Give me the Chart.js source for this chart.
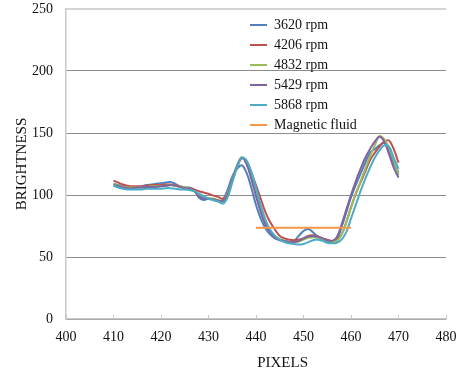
<!DOCTYPE html>
<html>
<head>
<meta charset="utf-8">
<script src="https://cdn.jsdelivr.net/npm/chart.js"></script>
<style>
  html, body { margin: 0; padding: 0; background: #fff; }
  #wrap { width: 461px; height: 375px; }
</style>
</head>
<body>
<div id="wrap"><canvas id="chart"></canvas></div>
<script>
// pixel positions along the profile
const pixels = [
  410, 411, 412, 413, 414, 415, 416, 417, 418, 419,
  420, 421, 422, 423, 424, 425, 426, 427, 428, 429,
  430, 431, 432, 433, 434, 435, 436, 437, 438, 439,
  440, 441, 442, 443, 444, 445, 446, 447, 448, 449,
  450, 451, 452, 453, 454, 455, 456, 457, 458, 459,
  460, 461, 462, 463, 464, 465, 466, 467, 468, 469, 470
];

const rpm3620 = [
  109, 108, 107, 106, 106, 106, 107, 108, 108.5, 109,
  109.5, 110, 110.5, 109, 107, 106, 106, 104, 98, 96,
  97, 96, 95, 96, 104, 115, 121, 124, 118, 106,
  92, 81, 73, 68, 65, 63.5, 63, 62.5, 63, 67,
  71, 72.5, 70, 66.5, 64, 63, 62.5, 64, 74, 86,
  98, 108, 117, 126, 134, 137, 140, 142, 136, 126, 118
];

const rpm4206 = [
  111.5, 110, 108.5, 107.5, 107, 107, 107, 107.5, 108, 108,
  108, 108.5, 108.5, 108, 107, 106, 105.5, 104.5, 103, 102,
  101, 99.5, 98.5, 97, 101, 112, 122, 129.5, 127, 118,
  108, 97, 86, 78, 72, 67, 65, 64, 63.5, 64,
  65, 67, 67.5, 66.5, 65, 64, 63, 64, 68, 78,
  90, 101, 110, 119, 128, 134, 139, 143, 144, 137, 126
];

const rpm4832 = [
  109, 107.5, 106.5, 106, 106, 106, 106, 106.5, 107, 107,
  107, 107.5, 108, 107.5, 107, 106, 105, 103, 100, 98,
  97.5, 97, 96, 95, 101, 113, 124, 130.5, 126, 115,
  101, 88, 78, 71, 67, 64.5, 63, 62, 62, 62.5,
  64, 65.5, 66, 65.5, 64, 63, 62, 63, 68, 78,
  90, 101, 111, 121, 131, 140, 147.5, 145, 138, 128, 116
];

const rpm5429 = [
  108, 107, 106, 105.5, 105.5, 106, 106, 106.5, 106.5, 106.5,
  107, 107.5, 108, 107.5, 106.5, 105.5, 105, 103, 99, 97,
  97, 96.5, 95.5, 95, 100, 112, 123, 130, 125, 113,
  99, 86, 76, 70, 66, 64, 63, 62, 62, 63,
  65, 66.5, 67, 66.5, 65, 63.5, 63, 66, 76, 88,
  100, 111, 121, 130, 137, 143, 147, 143, 133, 122, 114
];

const rpm5868 = [
  107.5, 106, 105, 104.5, 104.5, 104.5, 104.5, 105, 105, 105,
  105, 105.5, 105.5, 105, 104.5, 104.5, 104, 103, 101, 99,
  97, 96, 95, 93, 98, 110, 122, 130, 128, 119,
  106, 92, 80, 72, 67, 64, 62, 61, 60.5, 60,
  60.5, 62, 63.5, 64, 63, 61.5, 61, 61.5, 64, 70,
  81, 92, 103, 113, 122, 130, 136, 140, 139, 130, 121
];

// magnetic fluid level
const fluidX = [440, 460];
const fluidY = [73.5, 73.5];

const xTicks = [400, 410, 420, 430, 440, 450, 460, 470, 480];
const yTicks = [0, 50, 100, 150, 200, 250];

const serif = "'Liberation Serif', 'Times New Roman', serif";

function pts(xs, ys) {
  return xs.map((x, i) => ({ x: x, y: ys[i] }));
}

function series(label, ys, color, order) {
  return {
    label: label,
    data: pts(pixels, ys),
    borderColor: color,
    backgroundColor: color,
    borderWidth: 2,
    pointRadius: 0,
    pointStyle: 'line',
    tension: 0.4,
    order: order
  };
}

// axis titles placed like the original
const axisTitles = {
  id: 'axisTitles',
  afterDraw(chart) {
    const ctx = chart.ctx;
    const area = chart.chartArea;
    ctx.save();
    ctx.fillStyle = '#111';
    ctx.font = '15px ' + serif;
    ctx.textAlign = 'center';
    ctx.textBaseline = 'middle';
    ctx.fillText('PIXELS', area.left + (area.right - area.left) * 0.57, 363);
    ctx.translate(22, (area.top + area.bottom) / 2);
    ctx.rotate(-Math.PI / 2);
    ctx.fillText('BRIGHTNESS', 0, 0);
    ctx.restore();
  }
};

// move the legend inside the plot, right of centre
const legendSpot = {
  id: 'legendSpot',
  afterLayout(chart) {
    const lg = chart.legend;
    const w = lg.width, h = lg.height;
    lg.left = 244;
    lg.top = 12;
    lg.right = lg.left + w;
    lg.bottom = lg.top + h;
  }
};

function noOverhang(s) {
  s.paddingTop = 0;
  s.paddingBottom = 0;
  s.paddingLeft = 0;
  s.paddingRight = 0;
}

new Chart(document.getElementById('chart'), {
  type: 'line',
  data: {
    datasets: [
      series('3620 rpm', rpm3620, '#4F81BD', 6),
      series('4206 rpm', rpm4206, '#C0504D', 5),
      series('4832 rpm', rpm4832, '#9BBB59', 4),
      series('5429 rpm', rpm5429, '#8064A2', 3),
      series('5868 rpm', rpm5868, '#4BACC6', 2),
      {
        label: 'Magnetic fluid',
        data: pts(fluidX, fluidY),
        borderColor: '#F79646',
        backgroundColor: '#F79646',
        borderWidth: 2,
        pointRadius: 0,
        pointStyle: 'line',
        order: 1
      }
    ]
  },
  options: {
    responsive: true,
    maintainAspectRatio: false,
    animation: false,
    layout: { padding: { top: 9, right: 15, bottom: 0, left: 0 } },
    plugins: {
      tooltip: { enabled: false },
      legend: {
        position: 'chartArea',
        align: 'start',
        labels: {
          usePointStyle: true,
          pointStyleWidth: 17,
          boxWidth: 17,
          boxHeight: 14,
          padding: 6,
          color: '#111',
          font: { family: serif, size: 14 },
          sort: (a, b) => a.datasetIndex - b.datasetIndex
        }
      }
    },
    scales: {
      x: {
        type: 'linear',
        min: 400,
        max: 480,
        afterBuildTicks: s => { s.ticks = xTicks.map(v => ({ value: v })); },
        afterFit: s => { s.height = 56; noOverhang(s); },
        grid: {
          drawOnChartArea: false,
          drawTicks: true,
          tickLength: -4,
          color: '#c8c8c8'
        },
        border: { color: '#c8c8c8', width: 1.5 },
        ticks: {
          padding: 14,
          color: '#111',
          maxRotation: 0,
          font: { family: serif, size: 14 }
        }
      },
      y: {
        min: 0,
        max: 250,
        afterBuildTicks: s => { s.ticks = yTicks.map(v => ({ value: v })); },
        afterFit: s => { s.width = 66; noOverhang(s); },
        grid: {
          drawTicks: false,
          color: c => (c.tick && c.tick.value === 250) ? '#d4d4d4' : '#8c8c8c',
          lineWidth: c => (c.tick && c.tick.value === 250) ? 2 : 1
        },
        border: { color: '#c8c8c8', width: 1.5 },
        ticks: {
          padding: 13,
          color: '#111',
          font: { family: serif, size: 14 }
        }
      }
    }
  },
  plugins: [legendSpot, axisTitles]
});
</script>
</body>
</html>
